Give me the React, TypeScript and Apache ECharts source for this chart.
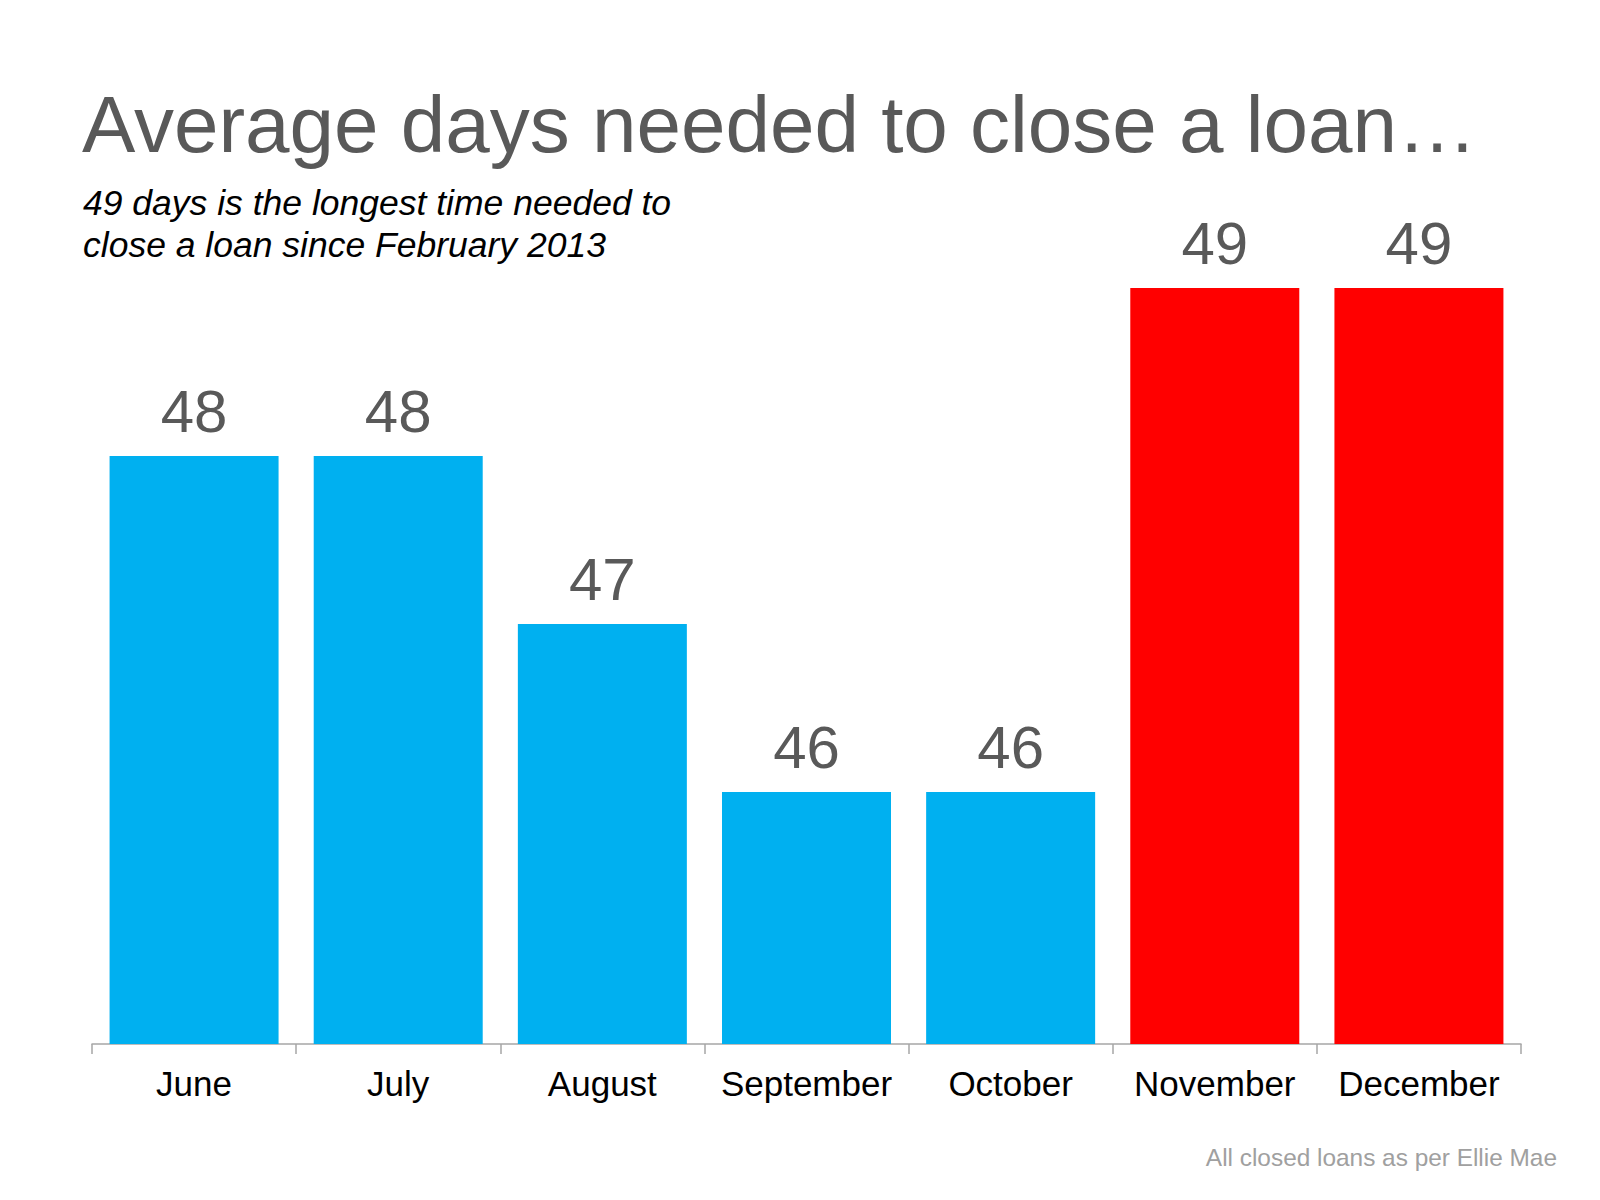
import React, { useEffect, useRef } from "react";
import * as echarts from "echarts";

const categories = ["June", "July", "August", "September", "October", "November", "December"];
const values = [48, 48, 47, 46, 46, 49, 49];
const barColors = ["#00B0F0", "#00B0F0", "#00B0F0", "#00B0F0", "#00B0F0", "#FF0000", "#FF0000"];
const titleText = "Average days needed to close a loan…";
const subtitleText = "49 days is the longest time needed to\nclose a loan since February 2013";
const footerText = "All closed loans as per Ellie Mae";

const FONT = "'Liberation Sans', Arial, Helvetica, sans-serif";

export default function App() {
  const ref = useRef<HTMLDivElement>(null);
  useEffect(() => {
    document.body.style.margin = "0";
    const chart = echarts.init(ref.current!, null, { renderer: "svg" });
    chart.setOption({
      animation: false,
      backgroundColor: "#ffffff",
      title: [
        {
          text: titleText,
          left: 82,
          top: 84,
          padding: 0,
          textStyle: { fontFamily: FONT, fontSize: 80, fontWeight: "normal", color: "#595959" },
        },
        {
          text: subtitleText,
          left: 83,
          top: 182,
          padding: 0,
          textStyle: {
            fontFamily: FONT,
            fontSize: 35.5,
            fontStyle: "italic",
            fontWeight: "normal",
            color: "#000000",
            lineHeight: 42,
          },
        },
        {
          text: footerText,
          right: 43,
          top: 1145,
          padding: 0,
          textStyle: { fontFamily: FONT, fontSize: 24.4, fontWeight: "normal", color: "#a0a0a0" },
        },
      ],
      grid: { left: 92, right: 79, top: 120, bottom: 156, containLabel: false },
      xAxis: {
        type: "category",
        data: categories,
        axisLine: { show: true, lineStyle: { color: "#a6a6a6", width: 1.5 } },
        axisTick: { show: true, length: 10, lineStyle: { color: "#a6a6a6", width: 1.5 } },
        axisLabel: { fontFamily: FONT, fontSize: 35, color: "#000000", margin: 22, interval: 0 },
      },
      yAxis: {
        type: "value",
        min: 44.5,
        max: 50,
        show: false,
        splitLine: { show: false },
      },
      series: [
        {
          type: "bar",
          data: values.map((v, i) => ({ value: v, itemStyle: { color: barColors[i] } })),
          barWidth: 169,
          label: {
            show: true,
            position: "top",
            distance: 15,
            fontFamily: FONT,
            fontSize: 60,
            color: "#595959",
          },
        },
      ],
    });
    return () => chart.dispose();
  }, []);
  return <div ref={ref} style={{ width: 1600, height: 1200 }} />;
}
